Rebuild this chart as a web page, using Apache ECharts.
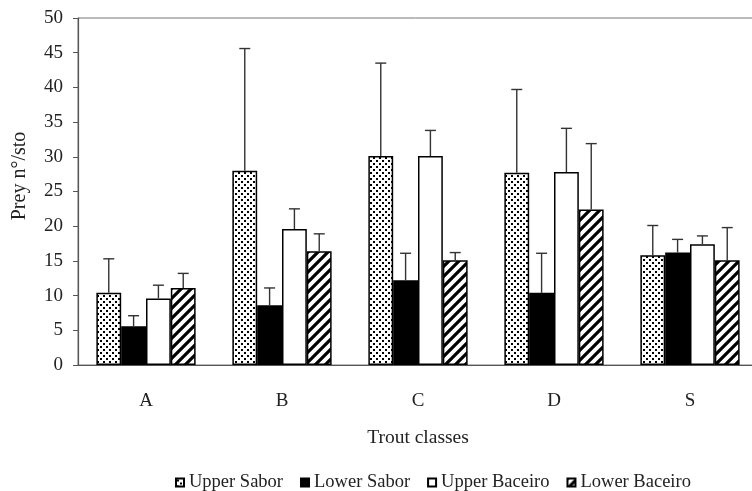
<!DOCTYPE html>
<html>
<head>
<meta charset="utf-8">
<script src="https://cdn.jsdelivr.net/npm/echarts@6/dist/echarts.min.js"></script>
<style>
html,body{margin:0;padding:0;background:#fff;}
#chart{width:752px;height:491px;}
</style>
</head>
<body>
<div id="chart"></div>
<script>
const categories = ['A', 'B', 'C', 'D', 'S'];
const seriesNames = ['Upper Sabor', 'Lower Sabor', 'Upper Baceiro', 'Lower Baceiro'];
const upperSabor = [10.4, 28.0, 30.1, 27.7, 15.8];
const upperSaborErrTop = [15.3, 45.6, 43.5, 39.7, 20.1];
const lowerSabor = [5.6, 8.6, 12.2, 10.4, 16.2];
const lowerSaborErrTop = [7.1, 11.1, 16.1, 16.1, 18.1];
const upperBaceiro = [9.6, 19.6, 30.1, 27.8, 17.4];
const upperBaceiroErrTop = [11.5, 22.5, 33.8, 34.1, 18.6];
const lowerBaceiro = [11.1, 16.4, 15.1, 22.4, 15.1];
const lowerBaceiroErrTop = [13.2, 18.9, 16.2, 31.9, 19.8];
const yTicks = { min: 0, max: 50, interval: 5 };

const values = [upperSabor, lowerSabor, upperBaceiro, lowerBaceiro];
const errTops = [upperSaborErrTop, lowerSaborErrTop, upperBaceiroErrTop, lowerBaceiroErrTop];

function dotPattern() {
  const c = document.createElement('canvas');
  c.width = 6; c.height = 6;
  const g = c.getContext('2d');
  g.fillStyle = '#fff'; g.fillRect(0, 0, 6, 6);
  g.fillStyle = '#000';
  g.fillRect(1, 1, 2, 2);
  g.fillRect(4, 4, 2, 2);
  return c;
}
function stripePattern() {
  const s = 10;
  const c = document.createElement('canvas');
  c.width = s; c.height = s;
  const g = c.getContext('2d');
  g.fillStyle = '#fff'; g.fillRect(0, 0, s, s);
  g.strokeStyle = '#000'; g.lineWidth = 3.2;
  g.beginPath();
  g.moveTo(-2, s + 2); g.lineTo(s + 2, -2);
  g.moveTo(-s / 2 - 2, s / 2 + 2); g.lineTo(s / 2 + 2, -s / 2 - 2);
  g.moveTo(s / 2 - 2, s * 1.5 + 2); g.lineTo(s * 1.5 + 2, s / 2 - 2);
  g.stroke();
  return c;
}

const fills = [
  { image: dotPattern(), repeat: 'repeat' },
  '#000',
  '#fff',
  { image: stripePattern(), repeat: 'repeat' }
];

const serif = 'Liberation Serif, DejaVu Serif, serif';
const chart = echarts.init(document.getElementById('chart'));

const series = [];
seriesNames.forEach((name, k) => {
  series.push({
    name: name,
    type: 'bar',
    data: values[k],
    barCategoryGap: '27%',
    barGap: '0%',
    itemStyle: { color: fills[k], borderColor: '#000', borderWidth: 1.5 },
    emphasis: { disabled: true },
    z: 2
  });
});
seriesNames.forEach((name, k) => {
  series.push({
    type: 'custom',
    name: name + ' error',
    data: categories.map((c, i) => [i, values[k][i], errTops[k][i]]),
    z: 3,
    silent: true,
    renderItem: function (params, api) {
      const ci = api.value(0);
      const base = api.coord([ci, api.value(1)]);
      const top = api.coord([ci, api.value(2)]);
      const band = api.size([1, 0])[0];
      const barW = band * 0.73 / 4;
      const x = base[0] + (k - 1.5) * barW;
      const st = { stroke: '#333', lineWidth: 1.4 };
      return {
        type: 'group',
        children: [
          { type: 'line', shape: { x1: x, y1: base[1], x2: x, y2: top[1] }, style: st },
          { type: 'line', shape: { x1: x - 5.5, y1: top[1], x2: x + 5.5, y2: top[1] }, style: st }
        ]
      };
    }
  });
});

chart.setOption({
  animation: false,
  backgroundColor: '#fff',
  grid: { left: 78, top: 18, width: 680, height: 347, show: true, borderColor: '#777', borderWidth: 1, outerBoundsMode: 'none', containLabel: false },
  legend: {
    data: seriesNames,
    left: 170,
    top: 468,
    icon: 'rect',
    itemWidth: 8,
    itemHeight: 8,
    itemGap: 17,
    textStyle: { fontFamily: serif, fontSize: 18.5, color: '#222' }
  },
  graphic: [{
    type: 'text',
    x: 20, y: 176,
    rotation: Math.PI / 2,
    style: { text: 'Prey n°/sto', font: '20px ' + serif, fill: '#222', textAlign: 'center', textVerticalAlign: 'middle' }
  }],
  xAxis: {
    type: 'category',
    data: categories,
    name: 'Trout classes',
    nameLocation: 'middle',
    nameGap: 63,
    nameTextStyle: { fontFamily: serif, fontSize: 19.5, color: '#222' },
    axisLine: { lineStyle: { color: '#555', width: 1.2 } },
    axisTick: { length: 6, lineStyle: { color: '#555' } },
    axisLabel: { margin: 27, fontFamily: serif, fontSize: 19, color: '#222' }
  },
  yAxis: {
    type: 'value',
    min: yTicks.min, max: yTicks.max, interval: yTicks.interval,
    axisLine: { show: true, lineStyle: { color: '#555', width: 1.2 } },
    axisTick: { show: true, length: 5, lineStyle: { color: '#555' } },
    splitLine: { show: false },
    axisLabel: { margin: 15, fontFamily: serif, fontSize: 19, color: '#222' }
  },
  series: series
});
</script>
</body>
</html>
